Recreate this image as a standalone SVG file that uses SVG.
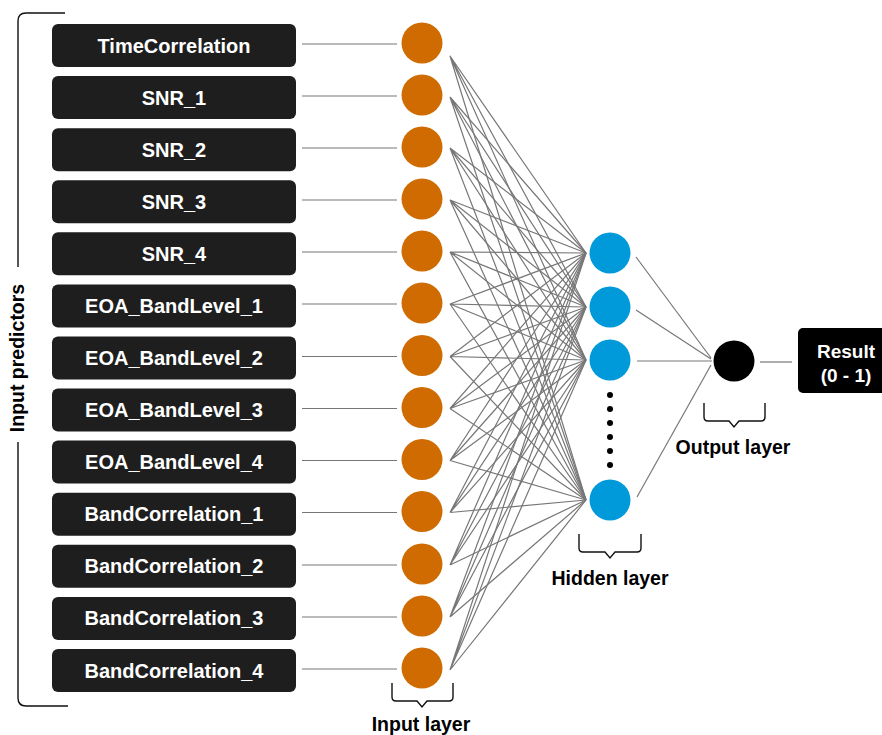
<svg xmlns="http://www.w3.org/2000/svg" width="882" height="735" viewBox="0 0 882 735">
<style>
.box{fill:#1e1e1e}
.bt{fill:#fff;font-family:"Liberation Sans",Arial,sans-serif;font-weight:bold;font-size:20px;text-anchor:middle}
.rt{fill:#fff;font-family:"Liberation Sans",Arial,sans-serif;font-weight:bold;font-size:19px;text-anchor:middle}
.lbl{fill:#000;font-family:"Liberation Sans",Arial,sans-serif;font-weight:bold;font-size:19.5px;text-anchor:middle}
.in{fill:#CF6B00}
.hid{fill:#0099DA}
.c{stroke:#777;stroke-width:1.2;fill:none}
.br{stroke:#111;stroke-width:1.4;fill:none}
</style>
<rect width="882" height="735" fill="#fff"/>
<g id="connectors">
<line class="c" x1="302" y1="44" x2="397" y2="44"/>
<line class="c" x1="302" y1="96" x2="397" y2="96"/>
<line class="c" x1="302" y1="148" x2="397" y2="148"/>
<line class="c" x1="302" y1="200" x2="397" y2="200"/>
<line class="c" x1="302" y1="252" x2="397" y2="252"/>
<line class="c" x1="302" y1="304" x2="397" y2="304"/>
<line class="c" x1="302" y1="356.5" x2="397" y2="356.5"/>
<line class="c" x1="302" y1="408.5" x2="397" y2="408.5"/>
<line class="c" x1="302" y1="460.5" x2="397" y2="460.5"/>
<line class="c" x1="302" y1="512.5" x2="397" y2="512.5"/>
<line class="c" x1="302" y1="565" x2="397" y2="565"/>
<line class="c" x1="302" y1="617" x2="397" y2="617"/>
<line class="c" x1="302" y1="669" x2="397" y2="669"/>
<g id="dense">
<path class="c" d="M450,56L586,253M450,56L586,307M450,56L586,360M450,56L586,500"/>
<path class="c" d="M450,97L586,253M450,97L586,307M450,97L586,360M450,97L586,500"/>
<path class="c" d="M450,148L586,253M450,148L586,307M450,148L586,360M450,148L586,500"/>
<path class="c" d="M450,200L586,253M450,200L586,307M450,200L586,360M450,200L586,500"/>
<path class="c" d="M450,252L586,253M450,252L586,307M450,252L586,360M450,252L586,500"/>
<path class="c" d="M450,304L586,253M450,304L586,307M450,304L586,360M450,304L586,500"/>
<path class="c" d="M450,356.5L586,253M450,356.5L586,307M450,356.5L586,360M450,356.5L586,500"/>
<path class="c" d="M450,408.5L586,253M450,408.5L586,307M450,408.5L586,360M450,408.5L586,500"/>
<path class="c" d="M450,460.5L586,253M450,460.5L586,307M450,460.5L586,360M450,460.5L586,500"/>
<path class="c" d="M450,512.5L586,253M450,512.5L586,307M450,512.5L586,360M450,512.5L586,500"/>
<path class="c" d="M450,565L586,253M450,565L586,307M450,565L586,360M450,565L586,500"/>
<path class="c" d="M450,617L586,253M450,617L586,307M450,617L586,360M450,617L586,500"/>
<path class="c" d="M450,670L586,253M450,670L586,307M450,670L586,360M450,670L586,500"/>
</g>
<line class="c" x1="636" y1="257" x2="711" y2="358"/>
<line class="c" x1="636" y1="310" x2="711" y2="359"/>
<line class="c" x1="637" y1="361" x2="712" y2="361"/>
<line class="c" x1="637" y1="497" x2="711" y2="365"/>
<line class="c" x1="760" y1="362" x2="792" y2="362"/>
</g>
<g id="input-predictors-bracket">
<path class="br" d="M65,13H26Q18,13 18,21V267"/>
<path class="br" d="M18,442V698Q18,706 26,706H68"/>
<text class="lbl" transform="translate(24,358) rotate(-90)" style="font-size:19.5px">Input predictors</text>
</g>
<g id="box-TimeCorrelation"><rect class="box" x="52" y="24" width="244" height="43" rx="6"/><text class="bt" x="174" y="52.5">TimeCorrelation</text></g>
<g id="box-SNR_1"><rect class="box" x="52" y="76.1" width="244" height="43" rx="6"/><text class="bt" x="174" y="104.6">SNR_1</text></g>
<g id="box-SNR_2"><rect class="box" x="52" y="128.2" width="244" height="43" rx="6"/><text class="bt" x="174" y="156.7">SNR_2</text></g>
<g id="box-SNR_3"><rect class="box" x="52" y="180.2" width="244" height="43" rx="6"/><text class="bt" x="174" y="208.7">SNR_3</text></g>
<g id="box-SNR_4"><rect class="box" x="52" y="232.3" width="244" height="43" rx="6"/><text class="bt" x="174" y="260.8">SNR_4</text></g>
<g id="box-EOA_BandLevel_1"><rect class="box" x="52" y="284.4" width="244" height="43" rx="6"/><text class="bt" x="174" y="312.9">EOA_BandLevel_1</text></g>
<g id="box-EOA_BandLevel_2"><rect class="box" x="52" y="336.5" width="244" height="43" rx="6"/><text class="bt" x="174" y="365">EOA_BandLevel_2</text></g>
<g id="box-EOA_BandLevel_3"><rect class="box" x="52" y="388.6" width="244" height="43" rx="6"/><text class="bt" x="174" y="417.1">EOA_BandLevel_3</text></g>
<g id="box-EOA_BandLevel_4"><rect class="box" x="52" y="440.6" width="244" height="43" rx="6"/><text class="bt" x="174" y="469.1">EOA_BandLevel_4</text></g>
<g id="box-BandCorrelation_1"><rect class="box" x="52" y="492.7" width="244" height="43" rx="6"/><text class="bt" x="174" y="521.2">BandCorrelation_1</text></g>
<g id="box-BandCorrelation_2"><rect class="box" x="52" y="544.8" width="244" height="43" rx="6"/><text class="bt" x="174" y="573.3">BandCorrelation_2</text></g>
<g id="box-BandCorrelation_3"><rect class="box" x="52" y="596.9" width="244" height="43" rx="6"/><text class="bt" x="174" y="625.4">BandCorrelation_3</text></g>
<g id="box-BandCorrelation_4"><rect class="box" x="52" y="649" width="244" height="43" rx="6"/><text class="bt" x="174" y="677.5">BandCorrelation_4</text></g>
<g id="input-layer">
<circle class="in" cx="422" cy="43" r="20.5"/>
<circle class="in" cx="422" cy="95" r="20.5"/>
<circle class="in" cx="422" cy="147" r="20.5"/>
<circle class="in" cx="422" cy="199" r="20.5"/>
<circle class="in" cx="422" cy="251" r="20.5"/>
<circle class="in" cx="422" cy="303" r="20.5"/>
<circle class="in" cx="422" cy="355.5" r="20.5"/>
<circle class="in" cx="422" cy="407.5" r="20.5"/>
<circle class="in" cx="422" cy="459.5" r="20.5"/>
<circle class="in" cx="422" cy="511.5" r="20.5"/>
<circle class="in" cx="422" cy="564" r="20.5"/>
<circle class="in" cx="422" cy="616" r="20.5"/>
<circle class="in" cx="422" cy="668" r="20.5"/>
<path class="br" d="M392,683V697Q392,701 396,701H417L422,707L427,701H449Q453,701 453,697V683"/>
<text class="lbl" x="421" y="731">Input layer</text>
</g>
<g id="hidden-layer">
<circle class="hid" cx="610" cy="253" r="20.5"/>
<circle class="hid" cx="610" cy="307" r="20.5"/>
<circle class="hid" cx="610" cy="360" r="20.5"/>
<circle class="hid" cx="610" cy="500" r="20.5"/>
<g fill="#000">
<circle cx="610" cy="395" r="3"/>
<circle cx="610" cy="409" r="3"/>
<circle cx="610" cy="423" r="3"/>
<circle cx="610" cy="437" r="3"/>
<circle cx="610" cy="451" r="3"/>
<circle cx="610" cy="465" r="3"/>
</g>
<path class="br" d="M579,534V548Q579,552 583,552H605L610,558L615,552H637Q641,552 641,548V534"/>
<text class="lbl" x="610" y="585">Hidden layer</text>
</g>
<g id="output-layer">
<circle cx="734" cy="361" r="20.5" fill="#000"/>
<path class="br" d="M704,403V417Q704,421 708,421H729L734,427L739,421H761Q765,421 765,417V403"/>
<text class="lbl" x="733" y="454">Output layer</text>
</g>
<g id="result">
<rect x="798" y="328" width="90" height="65" rx="5" fill="#000"/>
<text class="rt" x="846" y="358">Result</text>
<text class="rt" x="846" y="382">(0 - 1)</text>
</g>
</svg>
